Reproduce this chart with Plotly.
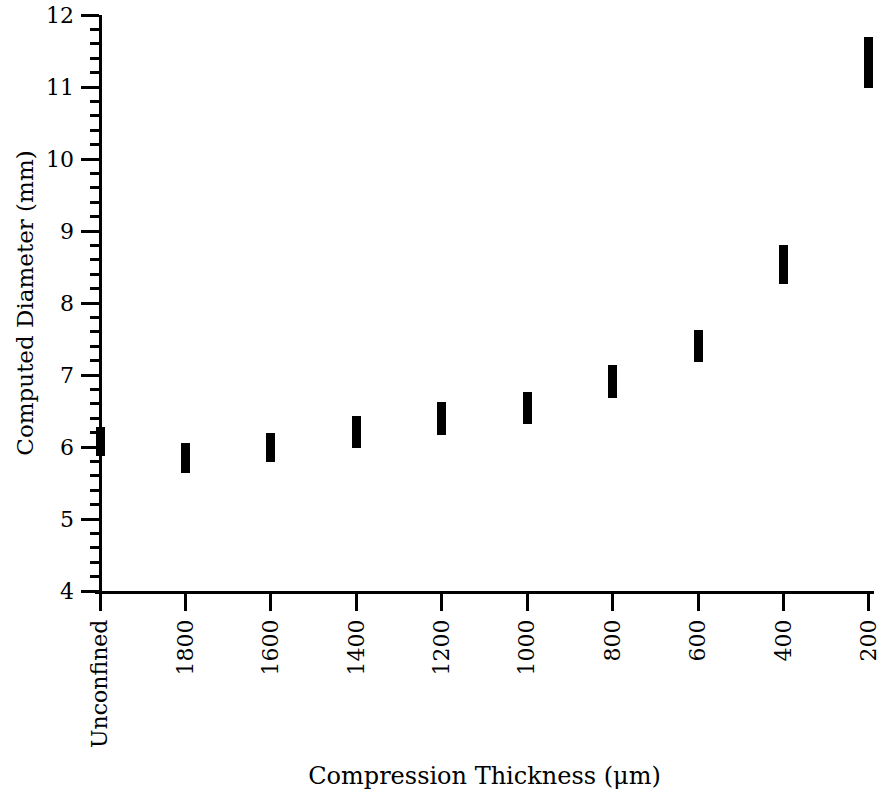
import plotly.graph_objects as go

categories = ["Unconfined", "1800", "1600", "1400", "1200", "1000", "800", "600", "400", "200"]
low_vals = [5.87, 5.64, 5.79, 5.98, 6.16, 6.32, 6.68, 7.18, 8.26, 10.98]
high_vals = [6.28, 6.05, 6.20, 6.43, 6.62, 6.76, 7.14, 7.62, 8.81, 11.69]
y_ticks = [4, 5, 6, 7, 8, 9, 10, 11, 12]

idx = list(range(len(categories)))
heights = [h - l for h, l in zip(high_vals, low_vals)]

FONT = "DejaVu Serif"
xpad = 0.06
xr = [-xpad, len(categories) - 1 + xpad]

fig = go.Figure()
fig.add_trace(go.Bar(
    x=idx, y=heights, base=low_vals, width=0.105,
    marker=dict(color="black", line=dict(width=0)),
    showlegend=False, hoverinfo="skip",
))

fig.update_layout(
    width=883, height=797,
    margin=dict(l=95, r=9, t=15, b=206),
    paper_bgcolor="white", plot_bgcolor="white",
    font=dict(family=FONT, color="black", size=20),
    xaxis=dict(
        range=xr, domain=[0, 1], automargin=False,
        tickmode="array", tickvals=idx, ticktext=categories,
        tickangle=-90, ticks="outside", ticklen=17, tickwidth=2.5, tickcolor="black",
        showline=True, linewidth=2.5, linecolor="black",
        showgrid=False, zeroline=False,
        tickfont=dict(family=FONT, size=22),
        title=dict(text="Compression Thickness (μm)", font=dict(family=FONT, size=24), standoff=21),
    ),
    yaxis=dict(
        range=[4, 12], anchor="free", position=xpad / (xr[1] - xr[0]), automargin=False,
        tickmode="array", tickvals=y_ticks,
        ticks="outside", ticklen=18, tickwidth=2.5, tickcolor="black",
        ticklabelstandoff=3,
        minor=dict(dtick=0.2, ticks="outside", ticklen=9, tickwidth=2.5, tickcolor="black", showgrid=False),
        showline=True, linewidth=2.5, linecolor="black",
        showgrid=False, zeroline=False,
        tickfont=dict(family=FONT, size=22),
        title=dict(text="Computed Diameter (mm)", font=dict(family=FONT, size=23), standoff=4),
    ),
    bargap=0,
)

fig.write_html("out.html")
